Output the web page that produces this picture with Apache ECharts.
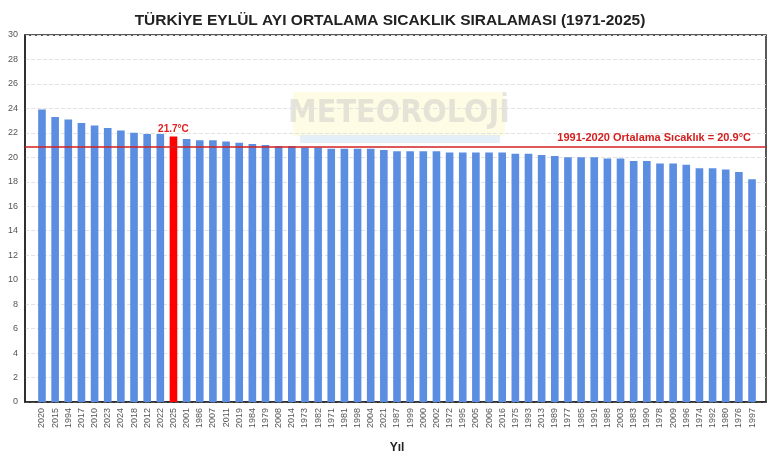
<!DOCTYPE html>
<html>
<head>
<meta charset="utf-8">
<script src="https://cdn.jsdelivr.net/npm/echarts@6/dist/echarts.min.js"></script>
<style>html,body{margin:0;padding:0;background:#fff}#c{width:780px;height:470px}</style>
</head>
<body>
<div id="c"></div>
<script>
const years = ['2020','2015','1994','2017','2010','2023','2024','2018','2012','2022',
  '2025','2001','1986','2007','2011','2019','1984','1979','2008','2014',
  '1973','1982','1971','1981','1998','2004','2021','1987','1999','2000',
  '2002','1972','1995','2005','2006','2016','1975','1993','2013','1989',
  '1977','1985','1991','1988','2003','1983','1990','1978','2009','1996',
  '1974','1992','1980','1976','1997'];
const temps = [23.9,23.3,23.1,22.8,22.6,22.4,22.2,22.0,21.9,21.9,
  21.7,21.5,21.4,21.4,21.3,21.2,21.1,21.0,20.9,20.9,
  20.8,20.8,20.7,20.7,20.7,20.7,20.6,20.5,20.5,20.5,
  20.5,20.4,20.4,20.4,20.4,20.4,20.3,20.3,20.2,20.1,
  20.0,20.0,20.0,19.9,19.9,19.7,19.7,19.5,19.5,19.4,
  19.1,19.1,19.0,18.8,18.2];
const highlightYear = '2025';
const normalValue = 20.9;
const yTicks = {min: 0, max: 30, interval: 2};

const chart = echarts.init(document.getElementById('c'), null, {renderer: 'canvas'});
const barData = years.map((y, i) => {
  if (y === highlightYear) {
    return {
      value: temps[i],
      itemStyle: {color: '#ff0000'},
      label: {show: true, position: 'top', distance: 2, formatter: temps[i].toFixed(1) + '°C',
        color: '#e02020', fontWeight: 'bold', fontSize: 10, fontFamily: 'Liberation Sans'}
    };
  }
  return temps[i];
});
chart.setOption({
  backgroundColor: '#fff',
  animation: false,
  title: {
    text: 'TÜRKİYE EYLÜL AYI ORTALAMA SICAKLIK SIRALAMASI (1971-2025)',
    left: 'center', top: 8,
    textStyle: {fontFamily: 'Liberation Sans', fontWeight: 'bold', fontSize: 15.5, color: '#222'}
  },
  graphic: [
    {type: 'rect', shape: {x: 293, y: 92, width: 212, height: 44}, style: {fill: 'rgba(255,248,200,0.45)'}, z: -1},
    {type: 'rect', shape: {x: 300, y: 135, width: 200, height: 8}, style: {fill: 'rgba(200,225,245,0.5)'}, z: -1},
    {type: 'text', x: 399, y: 114, z: -1, style: {text: 'METEOROLOJİ', fontFamily: 'DejaVu Sans Condensed', fontWeight: 'bold', fontSize: 32,
      fill: 'rgba(190,190,190,0.4)', align: 'center', verticalAlign: 'middle'}}
  ],
  grid: [
    {left: 25, right: 14, top: 35, bottom: 68, show: true, borderColor: '#222', borderWidth: 1.5, backgroundColor: 'transparent'},
    {left: 35.4, right: 21.4, top: 35, bottom: 68}
  ],
  xAxis: [
    {gridIndex: 0, type: 'value', min: 0, max: 1, show: true,
      axisLine: {show: true, lineStyle: {color: '#222', width: 1.5}},
      axisTick: {show: false}, axisLabel: {show: false}, splitLine: {show: false}},
    {gridIndex: 1, type: 'category', data: years,
      name: 'Yıl', nameLocation: 'middle', nameGap: 40,
      nameTextStyle: {fontFamily: 'Liberation Sans', fontWeight: 'bold', fontSize: 12, color: '#222'},
      axisLine: {show: false},
      axisTick: {show: false},
      axisLabel: {rotate: 90, interval: 0, fontSize: 9, color: '#555', fontFamily: 'Liberation Sans', margin: 6}}
  ],
  yAxis: [
    {gridIndex: 0, type: 'value', min: yTicks.min, max: yTicks.max, interval: yTicks.interval,
      axisLine: {show: true, lineStyle: {color: '#222', width: 1.5}},
      axisTick: {show: false},
      axisLabel: {fontSize: 9, color: '#555', fontFamily: 'Liberation Sans', margin: 7},
      splitLine: {lineStyle: {color: '#e2e2e2', type: 'dashed', width: 1}}},
    {gridIndex: 1, type: 'value', min: yTicks.min, max: yTicks.max, interval: yTicks.interval,
      show: false, splitLine: {show: false}}
  ],
  series: [{
    type: 'bar', data: barData, xAxisIndex: 1, yAxisIndex: 1,
    barCategoryGap: '42%',
    itemStyle: {color: '#5b8ee0'}
  }, {
    type: 'line', data: [], xAxisIndex: 0, yAxisIndex: 0, z: 5,
    markLine: {
      silent: true, symbol: 'none',
      lineStyle: {color: '#d22020', width: 1.5, type: 'solid'},
      label: {position: 'insideEndTop', formatter: '1991-2020 Ortalama Sıcaklık = ' + normalValue.toFixed(1) + '°C',
        color: '#d22020', fontWeight: 'bold', fontSize: 11, fontFamily: 'Liberation Sans', distance: [15, 3]},
      data: [{yAxis: normalValue}]
    }
  }]
});
</script>
</body>
</html>
